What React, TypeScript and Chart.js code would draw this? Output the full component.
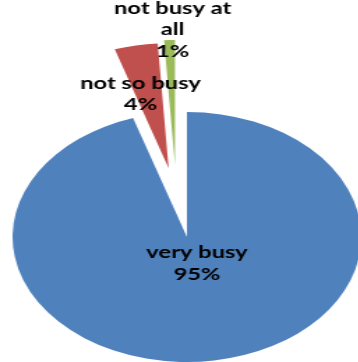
import React, { useEffect, useRef } from "react";
import { Chart, registerables } from "chart.js";

Chart.register(...registerables);

// ---- data ----
const categories = ["very busy", "not so busy", "not busy at all"];
const values = [95, 4, 1];
const percentLabels = ["95%", "4%", "1%"];
const labelLines = [["very busy"], ["not so busy"], ["not busy at", "all"]];
const colors = ["#4F81BD", "#C0504D", "#9BBB59"];

// ---- layout / style ----
const STRETCH_X = 1.395;
const CANVAS_W = 268;
const CANVAS_H = 474;
const RADIUS = 125;
// explode distance (px) and turn (deg) relative to the slice mid angle
const EXPLODE = [
  { dist: 0, turn: 0 },
  { dist: 70, turn: 0 },
  { dist: 72.5, turn: -5 },
];
// label block centre relative to the slice apex
const LABEL_POS = [
  { dist: 27, turn: -6.5 },
  { dist: 77.4, turn: -4.3 },
  { dist: 135.6, turn: 1.1 },
];
const FONT = "bold 17px Lato, 'Open Sans', sans-serif";
const LINE_H = 21.7;
const CAP_HALF = 6;

const explodePlugin = {
  id: "explodeAndLabels",
  beforeDatasetsDraw(chart: any) {
    const meta = chart.getDatasetMeta(0);
    const area = chart.chartArea;
    const cx = (area.left + area.right) / 2 + (meta.controller.offsetX || 0);
    const cy = (area.top + area.bottom) / 2 + (meta.controller.offsetY || 0);
    meta.data.forEach((arc: any, i: number) => {
      const e = EXPLODE[i] || { dist: 0, turn: 0 };
      const a = (arc.startAngle + arc.endAngle) / 2 + (e.turn * Math.PI) / 180;
      arc.x = cx + Math.cos(a) * e.dist;
      arc.y = cy + Math.sin(a) * e.dist;
    });
  },
  afterDatasetsDraw(chart: any) {
    const ctx = chart.ctx;
    const meta = chart.getDatasetMeta(0);
    ctx.save();
    ctx.font = FONT;
    ctx.fillStyle = "#000000";
    ctx.textAlign = "center";
    ctx.textBaseline = "alphabetic";
    meta.data.forEach((arc: any, i: number) => {
      const p = LABEL_POS[i];
      const a = (arc.startAngle + arc.endAngle) / 2 + (p.turn * Math.PI) / 180;
      const x = arc.x + Math.cos(a) * p.dist;
      const y = arc.y + Math.sin(a) * p.dist;
      const lines = [...labelLines[i], percentLabels[i]];
      const n = lines.length;
      lines.forEach((t, k) => {
        const by = y + (k - (n - 1) / 2) * LINE_H + CAP_HALF;
        ctx.fillText(t, x, by);
      });
    });
    ctx.restore();
  },
};

export default function App() {
  const ref = useRef<HTMLCanvasElement | null>(null);
  useEffect(() => {
    if (!ref.current) return;
    const chart = new Chart(ref.current, {
      type: "pie",
      data: {
        labels: categories,
        datasets: [
          {
            data: values,
            backgroundColor: colors,
            borderWidth: 0,
            radius: RADIUS,
          } as any,
        ],
      },
      options: {
        responsive: false,
        animation: false,
        devicePixelRatio: 1,
        events: [],
        layout: { padding: 0 },
        plugins: {
          legend: { display: false },
          tooltip: { enabled: false },
          title: { display: false },
        },
      },
      plugins: [explodePlugin],
    });
    return () => chart.destroy();
  }, []);

  return (
    <div
      style={{
        position: "fixed",
        left: 0,
        top: 0,
        width: 358,
        height: 362,
        overflow: "hidden",
        background: "#ffffff",
      }}
    >
      <div
        style={{
          width: CANVAS_W,
          height: CANVAS_H,
          transform: `scaleX(${STRETCH_X})`,
          transformOrigin: "0 0",
        }}
      >
        <canvas ref={ref} width={CANVAS_W} height={CANVAS_H} />
      </div>
    </div>
  );
}
